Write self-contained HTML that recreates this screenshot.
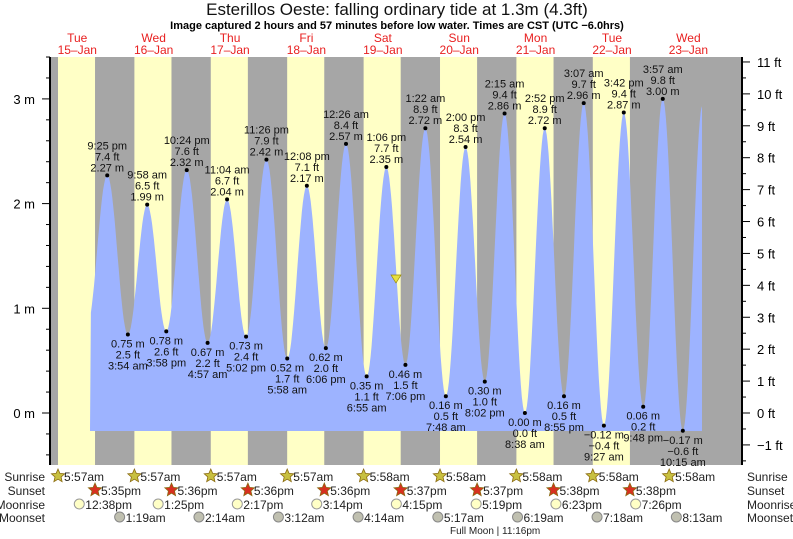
<!DOCTYPE html>
<html><head><meta charset="utf-8"><style>
body{margin:0;background:#fff;}
svg{display:block;font-family:"Liberation Sans",sans-serif;}
</style></head><body>
<svg id="s" width="793" height="539" viewBox="0 0 793 539" xmlns="http://www.w3.org/2000/svg"></svg>
<script>
const S=document.getElementById('s');
let h='';
const X0=39.06, PH=3.183, DAY=PH*24;
const Y0=413, PM=104.7;
const xt=(d,hh,mm)=>X0+d*DAY+(hh+mm/60)*PH;
const ym=m=>Y0-m*PM;
h+=`<rect x="50" y="57" width="692" height="408" fill="#a6a6a6"/>`;
const sr=[[5,57],[5,57],[5,57],[5,57],[5,58],[5,58],[5,58],[5,58]];
const ss=[[17,35],[17,36],[17,36],[17,36],[17,37],[17,37],[17,38],[17,38]];
for(let d=0;d<8;d++){const a=xt(d,...sr[d]),b=xt(d,...ss[d]);h+=`<rect x="${a}" y="57" width="${b-a}" height="408" fill="#ffffc6"/>`;}
const T=[[0,15,0,0.82],[0,21,25,2.27],[1,3,54,0.75],[1,9,58,1.99],[1,15,58,0.78],[1,22,24,2.32],[2,4,57,0.67],[2,11,4,2.04],[2,17,2,0.73],[2,23,26,2.42],[3,5,58,0.52],[3,12,8,2.17],[3,18,6,0.62],[4,0,26,2.57],[4,6,55,0.35],[4,13,6,2.35],[4,19,6,0.46],[5,1,22,2.72],[5,7,48,0.16],[5,14,0,2.54],[5,20,2,0.30],[6,2,15,2.86],[6,8,38,0.00],[6,14,52,2.72],[6,20,55,0.16],[7,3,7,2.96],[7,9,27,-0.12],[7,15,42,2.87],[7,21,48,0.06],[8,3,57,3.00],[8,10,15,-0.17],[8,16,30,2.95]];
const P=T.map(t=>[xt(t[0],t[1],t[2]),t[3]]);
let pts=[];
for(let i=0;i<P.length-1;i++){const [xa,ya]=P[i],[xb,yb]=P[i+1];for(let k=0;k<20;k++){const f=k/20,x=xa+(xb-xa)*f,y=ya+(yb-ya)*(1-Math.cos(Math.PI*f))/2;if(x>=90&&x<=702)pts.push([x,ym(y)]);}}
let d=`M90,431 `+pts.map(p=>`L${p[0].toFixed(1)},${p[1].toFixed(1)}`).join(' ')+` L702,${ym(2.91)} L702,431 Z`;
h+=`<path d="${d}" fill="#9db3ff"/>`;
const lab=[['9:25 pm','7.4 ft','2.27 m'],['3:54 am','2.5 ft','0.75 m'],['9:58 am','6.5 ft','1.99 m'],['3:58 pm','2.6 ft','0.78 m'],['10:24 pm','7.6 ft','2.32 m'],['4:57 am','2.2 ft','0.67 m'],['11:04 am','6.7 ft','2.04 m'],['5:02 pm','2.4 ft','0.73 m'],['11:26 pm','7.9 ft','2.42 m'],['5:58 am','1.7 ft','0.52 m'],['12:08 pm','7.1 ft','2.17 m'],['6:06 pm','2.0 ft','0.62 m'],['12:26 am','8.4 ft','2.57 m'],['6:55 am','1.1 ft','0.35 m'],['1:06 pm','7.7 ft','2.35 m'],['7:06 pm','1.5 ft','0.46 m'],['1:22 am','8.9 ft','2.72 m'],['7:48 am','0.5 ft','0.16 m'],['2:00 pm','8.3 ft','2.54 m'],['8:02 pm','1.0 ft','0.30 m'],['2:15 am','9.4 ft','2.86 m'],['8:38 am','0.0 ft','0.00 m'],['2:52 pm','8.9 ft','2.72 m'],['8:55 pm','0.5 ft','0.16 m'],['3:07 am','9.7 ft','2.96 m'],['9:27 am','\u22120.4 ft','\u22120.12 m'],['3:42 pm','9.4 ft','2.87 m'],['9:48 pm','0.2 ft','0.06 m'],['3:57 am','9.8 ft','3.00 m'],['10:15 am','\u22120.6 ft','\u22120.17 m']];
for(let i=1;i<=30;i++){const [x,m]=P[i];const y=ym(m);const L=lab[i-1];h+=`<circle cx="${x}" cy="${y}" r="2" fill="#000"/>`;
 if(i%2==1){h+=`<text x="${x}" y="${y-4}" font-size="11" text-anchor="middle" fill="#111">${L[2]}</text><text x="${x}" y="${y-15}" font-size="11" text-anchor="middle" fill="#111">${L[1]}</text><text x="${x}" y="${y-26}" font-size="11" text-anchor="middle" fill="#111">${L[0]}</text>`;}
 else{h+=`<text x="${x}" y="${y+13}" font-size="11" text-anchor="middle" fill="#111">${L[2]}</text><text x="${x}" y="${y+24}" font-size="11" text-anchor="middle" fill="#111">${L[1]}</text><text x="${x}" y="${y+35}" font-size="11" text-anchor="middle" fill="#111">${L[0]}</text>`;}}
h+=`<polygon points="391,275 401,275 396,283" fill="#e8e040" stroke="#998800" stroke-width="0.7"/>`;
h+=`<line x1="50" y1="57" x2="50" y2="465" stroke="#000" stroke-width="2"/><line x1="742" y1="57" x2="742" y2="465" stroke="#000" stroke-width="2"/>`;
for(let v=-0.4;v<=3.5;v+=0.2){const y=ym(v);if(y<57||y>465)continue;const maj=Math.abs(v-Math.round(v))<0.01;h+=`<line x1="${maj?42:46}" y1="${y}" x2="50" y2="${y}" stroke="#000"/>`;if(maj)h+=`<text x="35" y="${y+5}" font-size="13" text-anchor="end">${Math.round(v)} m</text>`;}
for(let f=-1.5;f<=11.5;f+=0.5){const y=ym(f*0.3048);if(y<57||y>465)continue;const maj=f%1==0;h+=`<line x1="742" y1="${y}" x2="${maj?750:746}" y2="${y}" stroke="#000"/>`;if(maj)h+=`<text x="757" y="${y+5}" font-size="13">${f<0?'\u22121':f} ft</text>`;}
h+=`<text x="397" y="15" font-size="17" text-anchor="middle" fill="#111">Esterillos Oeste: falling  ordinary tide at 1.3m (4.3ft)</text>`;
h+=`<text x="397" y="29" font-size="11" font-weight="bold" text-anchor="middle">Image captured 2 hours and 57 minutes before low water. Times are CST (UTC −6.0hrs)</text>`;
const days=[['Tue','15'],['Wed','16'],['Thu','17'],['Fri','18'],['Sat','19'],['Sun','20'],['Mon','21'],['Tue','22'],['Wed','23']];
days.forEach((dd,i)=>{const x=xt(i,12,0);h+=`<text x="${x}" y="42" font-size="12" fill="#e82020" text-anchor="middle">${dd[0]}</text><text x="${x}" y="54" font-size="12" fill="#e82020" text-anchor="middle">${dd[1]}\u2013Jan</text>`;});
const rows=[['Sunrise',481],['Sunset',495],['Moonrise',509],['Moonset',522]];
rows.forEach(r=>{h+=`<text x="45" y="${r[1]}" font-size="12" text-anchor="end" fill="#222">${r[0]}</text><text x="747" y="${r[1]}" font-size="12" fill="#222">${r[0]}</text>`;});
const star=(cx,cy,fill)=>{let p=[];for(let k=0;k<10;k++){const a=-Math.PI/2+k*Math.PI/5,r=k%2?3.2:7;p.push((cx+r*Math.cos(a)).toFixed(1)+','+(cy+r*Math.sin(a)).toFixed(1));}return `<polygon points="${p.join(' ')}" fill="${fill}" stroke="#8a6a10" stroke-width="0.8"/>`;};
const fmt=(hh,mm,ap)=>`${hh}:${String(mm).padStart(2,'0')}${ap}`;
for(let d=0;d<9;d++){const x=xt(d,5,57.5);h+=star(x,476,'#c8c040')+`<text x="${x+6}" y="481" font-size="12" fill="#222">5:${d<4?'57':'58'}am</text>`;}
for(let d=0;d<8;d++){const x=xt(d,...ss[d]);h+=star(x,490,'#d83020')+`<text x="${x+6}" y="495" font-size="12" fill="#222">5:${ss[d][1]}pm</text>`;}
const mr=[[12,38],[13,25],[14,17],[15,14],[16,15],[17,19],[18,23],[19,26]];
mr.forEach((t,d)=>{const x=xt(d,t[0],t[1]);h+=`<circle cx="${x}" cy="504" r="5" fill="#ffffc6" stroke="#999"/><text x="${x+6}" y="509" font-size="12" fill="#222">${fmt(t[0]>12?t[0]-12:t[0],t[1],'pm')}</text>`;});
const ms=[[1,19],[2,14],[3,12],[4,14],[5,17],[6,19],[7,18],[8,13]];
ms.forEach((t,i)=>{const x=xt(i+1,t[0],t[1]);h+=`<circle cx="${x}" cy="517" r="5" fill="#c0c0b0" stroke="#888"/><text x="${x+6}" y="522" font-size="12" fill="#222">${fmt(t[0],t[1],'am')}</text>`;});
h+=`<text x="450" y="534" font-size="10" fill="#222">Full Moon | 11:16pm</text>`;
S.innerHTML=h;
</script>
</body></html>
